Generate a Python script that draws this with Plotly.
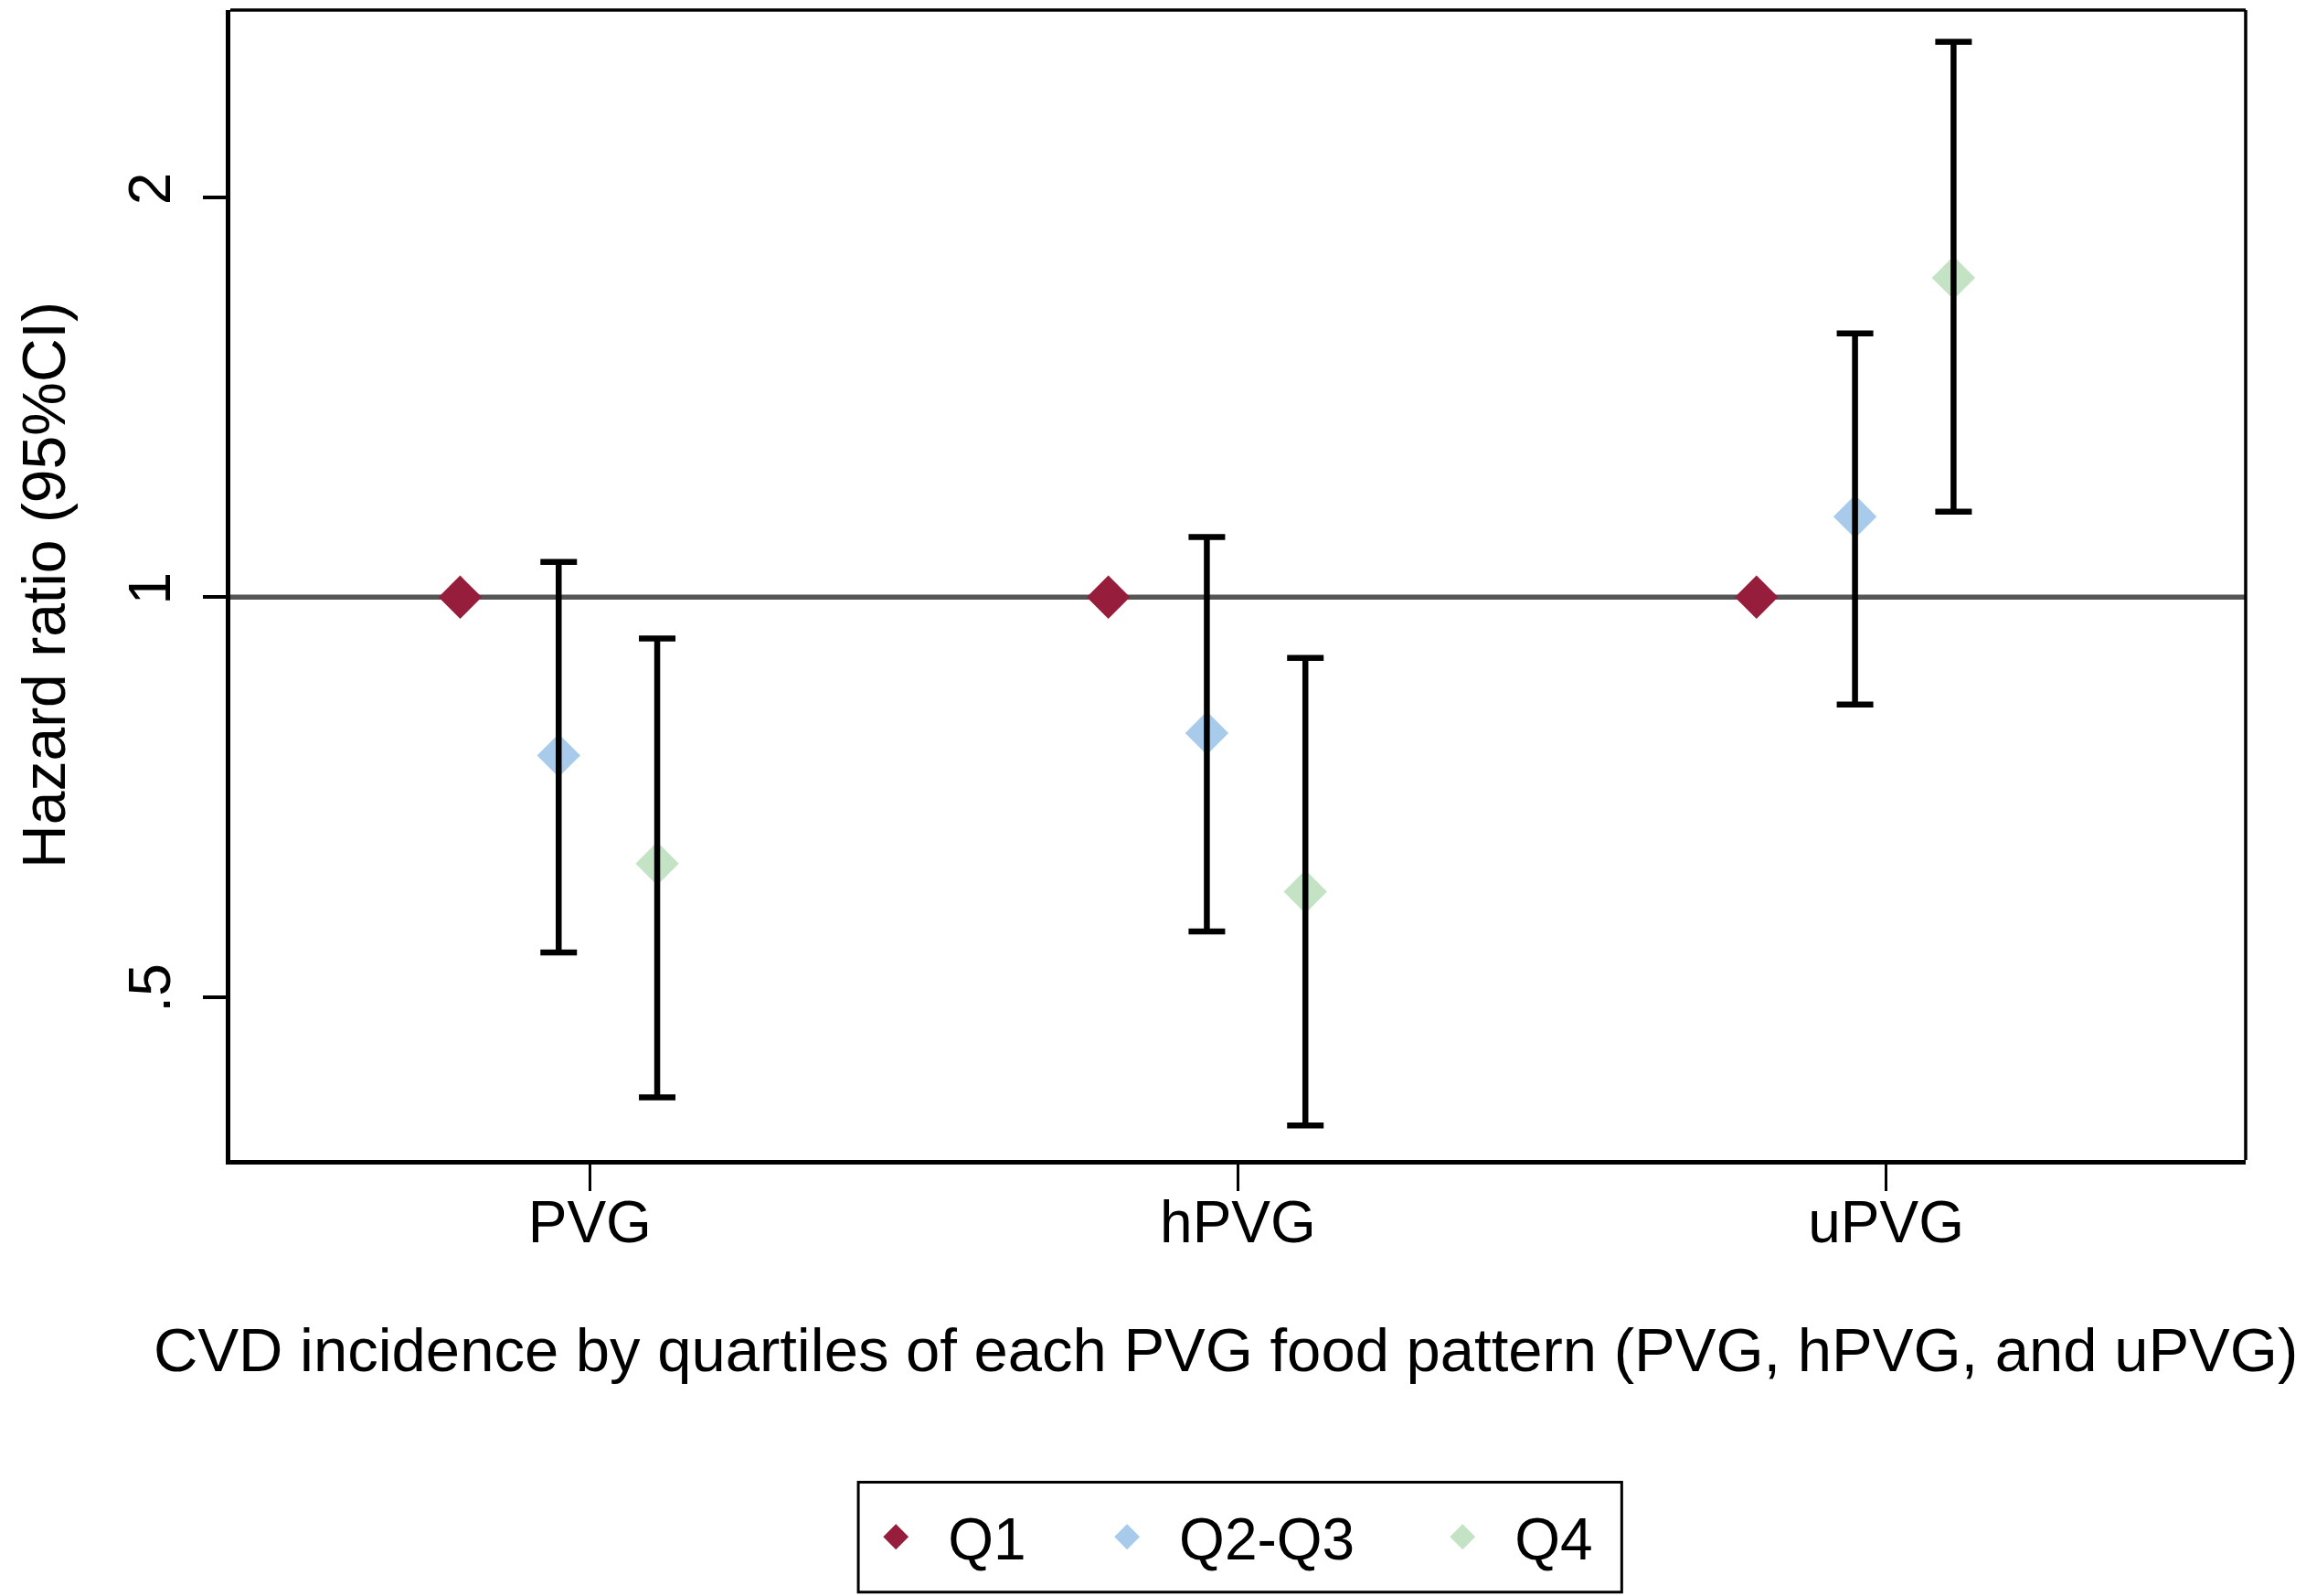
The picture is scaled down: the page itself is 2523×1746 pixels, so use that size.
import math
import plotly.graph_objects as go

# ---- data ----
groups = ["PVG", "hPVG", "uPVG"]
quartiles = ["Q1", "Q2-Q3", "Q4"]
hr_q1 = [1.0, 1.0, 1.0]
hr_q23 = [0.76, 0.79, 1.15]
lo_q23 = [0.54, 0.56, 0.83]
hi_q23 = [1.063, 1.11, 1.58]
hr_q4 = [0.63, 0.60, 1.74]
lo_q4 = [0.42, 0.40, 1.16]
hi_q4 = [0.931, 0.90, 2.62]
ref_hr = 1.0
y_tickvals = [0.5, 1, 2]
y_ticktext = [".5", "1", "2"]

# ---- styling ----
FONT = "Liberation Sans, Arial, sans-serif"
colors = {"Q1": "#961e3c", "Q2-Q3": "#a9cbeb", "Q4": "#c3e3c4"}
offsets = {"Q1": -0.2, "Q2-Q3": -0.048, "Q4": 0.104}
legend_ids = {"Q1": "legend", "Q2-Q3": "legend2", "Q4": "legend3"}
legend_x = {"Q1": 0.3044, "Q2-Q3": 0.4191, "Q4": 0.5856}
LEG_Y = -0.328
group_pos = list(range(1, len(groups) + 1))

series = {
    "Q1": (hr_q1, None, None),
    "Q2-Q3": (hr_q23, lo_q23, hi_q23),
    "Q4": (hr_q4, lo_q4, hi_q4),
}

fig = go.Figure()

# markers
for q in quartiles:
    vals, lo, hi = series[q]
    xs = [g + offsets[q] for g in group_pos]
    fig.add_trace(go.Scatter(
        x=xs, y=vals, mode="markers", name=q, legend=legend_ids[q],
        marker=dict(symbol="diamond", size=31, color=colors[q],
                    line=dict(width=5, color=colors[q])),
        cliponaxis=False,
    ))

# error bars drawn above markers
for q in quartiles:
    vals, lo, hi = series[q]
    if lo is None:
        continue
    xs = [g + offsets[q] for g in group_pos]
    fig.add_trace(go.Scatter(
        x=xs, y=vals, mode="markers", showlegend=False, hoverinfo="skip",
        marker=dict(size=1, opacity=0),
        error_y=dict(type="data", symmetric=False,
                     array=[h - v for h, v in zip(hi, vals)],
                     arrayminus=[v - l for v, l in zip(vals, lo)],
                     color="black", thickness=6.5, width=20),
    ))

# reference line at HR = 1
fig.add_shape(type="line", xref="paper", yref="y", x0=0, x1=1, y0=ref_hr, y1=ref_hr,
              line=dict(color="#555555", width=5.5), layer="below")
# thinner top / right frame
fig.add_shape(type="line", xref="paper", yref="paper", x0=0, x1=1, y0=1, y1=1,
              line=dict(color="black", width=3.5))
fig.add_shape(type="line", xref="paper", yref="paper", x0=1, x1=1, y0=0, y1=1,
              line=dict(color="black", width=3.5))
# legend box
fig.add_shape(type="rect", xref="paper", yref="paper", x0=0.3116, x1=0.6904,
              y0=-0.3757, y1=-0.2803, line=dict(color="black", width=3), fillcolor="rgba(0,0,0,0)")

leg_common = dict(orientation="h", xanchor="left", yanchor="middle", y=LEG_Y,
                  bgcolor="rgba(0,0,0,0)", borderwidth=0, font=dict(size=64),
                  itemwidth=104)

fig.update_layout(
    width=2515, height=1738,
    margin=dict(l=244, r=66, t=3, b=477),
    paper_bgcolor="white", plot_bgcolor="white",
    font=dict(family=FONT, size=64, color="black"),
    showlegend=True,
    legend=dict(x=legend_x["Q1"], **leg_common),
    legend2=dict(x=legend_x["Q2-Q3"], **leg_common),
    legend3=dict(x=legend_x["Q4"], **leg_common),
    xaxis=dict(range=[0.4454, 3.5547], tickvals=group_pos, ticktext=groups,
               showgrid=False, zeroline=False, showline=True, linecolor="black",
               linewidth=5, mirror=False, ticks="outside", ticklen=29, tickwidth=2.5,
               tickcolor="black", tickfont=dict(size=64), ticklabelstandoff=-21),
    yaxis=dict(type="log", range=[-0.4239, 0.4422],
               tickvals=y_tickvals, ticktext=y_ticktext, tickangle=-90,
               showgrid=False, zeroline=False, showline=True, linecolor="black",
               linewidth=5, mirror=False, ticks="outside", ticklen=25, tickwidth=3.5,
               tickcolor="black", tickfont=dict(size=64), ticklabelstandoff=10),
    annotations=[
        dict(text="CVD incidence by quartiles of each PVG food pattern (PVG, hPVG, and uPVG)",
             xref="paper", yref="paper", x=0.494, y=-0.1646, xanchor="center", yanchor="middle",
             showarrow=False, font=dict(size=67)),
        dict(text="Hazard ratio (95%CI)", xref="paper", yref="paper", x=(1 - 244) / 2204.5, y=0.5,
             xanchor="left", yanchor="middle", textangle=-90, showarrow=False,
             font=dict(size=66)),
    ],
)

fig.write_html("out.html")
